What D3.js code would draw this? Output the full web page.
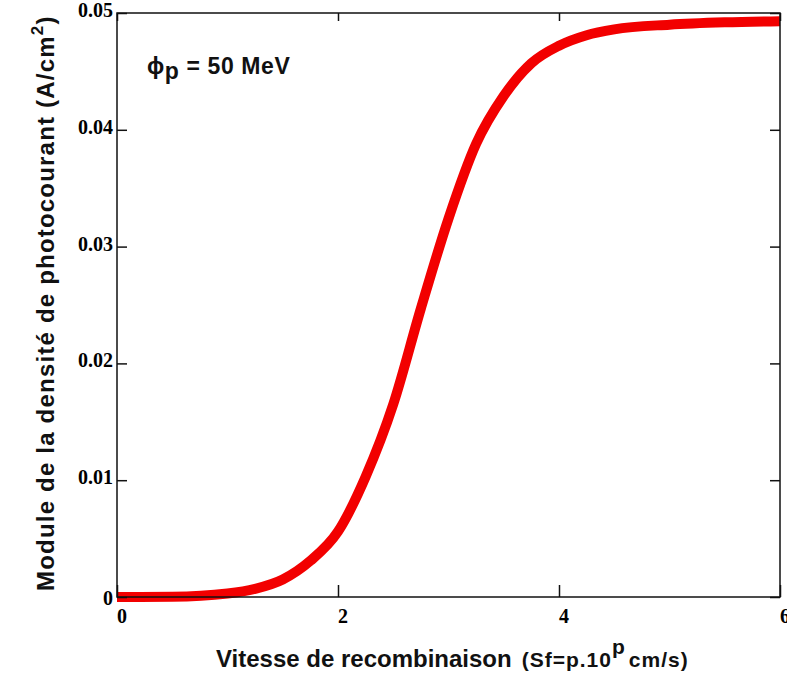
<!DOCTYPE html>
<html>
<head>
<meta charset="utf-8">
<script src="https://cdn.jsdelivr.net/npm/d3@7"></script>
<style>
  body { margin: 0; background: #fff; }
  .lbl { font-family: "Liberation Sans", Arial, sans-serif; font-weight: bold; fill: #111; }
</style>
</head>
<body>
<script>
var width = 787;
var height = 678;
var margin = { left: 117, right: 7, top: 13, bottom: 81 };

// p values (Sf = p.10^p cm/s) and photocurrent density module (A/cm2)
var pValues = [0, 0.5, 1.0, 1.25, 1.5, 1.75, 2.0, 2.25, 2.5, 2.75, 3.0, 3.25, 3.5, 3.75, 4.0, 4.25, 4.5, 5.0, 5.5, 6.0];
var jph = [0, 0.00002, 0.0003, 0.0007, 0.0015, 0.0031, 0.0056, 0.0103, 0.0165, 0.0247, 0.0324, 0.0388, 0.0429, 0.0457, 0.0472, 0.0481, 0.0486, 0.0490, 0.0492, 0.0493];
var xTicks = [0, 2, 4, 6];
var yTicks = [0, 0.01, 0.02, 0.03, 0.04, 0.05];

var svg = d3.select('body')
            .append('svg')
            .attr('width', width)
            .attr('height', height);

var w = width - margin.left - margin.right;
var h = height - margin.top - margin.bottom;

var x = d3.scaleLinear().domain([0, 6]).range([0, w]);
var y = d3.scaleLinear().domain([0, 0.05]).range([h, 0]);

var g = svg.append('g')
           .attr('transform', 'translate(' + margin.left + ',' + margin.top + ')');

// curve
var line = d3.line()
             .x(function (d, i) { return x(pValues[i]); })
             .y(function (d) { return y(d); })
             .curve(d3.curveMonotoneX);

g.append('path')
 .datum(jph)
 .attr('d', line)
 .attr('fill', 'none')
 .attr('stroke', '#f20000')
 .attr('stroke-width', 10);

// axes, ticks pointing inward
var fmtY = function (d) { return d === 0 ? '0' : d3.format('.2f')(d); };

g.append('g')
 .attr('transform', 'translate(0,' + h + ')')
 .call(d3.axisTop(x).tickValues(xTicks).tickSize(12).tickFormat(''));
g.append('g')
 .call(d3.axisBottom(x).tickValues(xTicks).tickSize(8).tickFormat(''));
g.append('g')
 .call(d3.axisRight(y).tickValues(yTicks).tickSize(10).tickFormat(''));
g.append('g')
 .attr('transform', 'translate(' + w + ',0)')
 .call(d3.axisLeft(y).tickValues(yTicks).tickSize(10).tickFormat(''));

g.selectAll('.domain').remove();
g.selectAll('.tick line').attr('stroke', '#111').attr('stroke-width', 1.5);

g.append('rect')
 .attr('width', w)
 .attr('height', h)
 .attr('fill', 'none')
 .attr('stroke', '#111')
 .attr('stroke-width', 1.5);

// tick labels
g.selectAll('.xlab')
 .data(xTicks)
 .enter()
 .append('text')
 .attr('x', function (d) { return x(d) + 5; })
 .attr('y', h + 26)
 .attr('text-anchor', 'middle')
 .style('font-family', '"Liberation Serif", serif')
 .style('font-weight', 'bold')
 .style('font-size', '20px')
 .text(function (d) { return d; });

g.selectAll('.ylab')
 .data(yTicks)
 .enter()
 .append('text')
 .attr('x', -4)
 .attr('y', function (d) { return y(d) + (d === 0 ? 8 : 4); })
 .attr('text-anchor', 'end')
 .style('font-family', '"Liberation Serif", serif')
 .style('font-weight', 'bold')
 .style('font-size', '20px')
 .text(fmtY);

// x title
var xt = svg.append('text')
            .attr('class', 'lbl')
            .attr('x', 216)
            .attr('y', 667)
            .style('font-size', '24px');
xt.append('tspan').text('Vitesse de recombinaison');
xt.append('tspan').style('font-size', '21px').style('letter-spacing', '1px').attr('dx', 10).text('(Sf=p.10');
xt.append('tspan').style('font-size', '21px').attr('dy', -13).text('p');
xt.append('tspan').style('font-size', '21px').style('letter-spacing', '1px').attr('dy', 13).attr('dx', 4).text('cm/s)');

// y title
var yt = svg.append('text')
            .attr('class', 'lbl')
            .attr('transform', 'translate(54,591) rotate(-90)')
            .style('font-size', '24px')
            .style('letter-spacing', '1.2px');
yt.append('tspan').text('Module de la densité de photocourant (A/cm');
yt.append('tspan').style('font-size', '17px').attr('dy', -11).text('2');
yt.append('tspan').attr('dy', 11).text(')');

// annotation
var ann = svg.append('text')
             .attr('class', 'lbl')
             .attr('x', 147)
             .attr('y', 74)
             .style('font-size', '23px')
             .style('letter-spacing', '0.6px');
ann.append('tspan').text('ϕ');
ann.append('tspan').attr('dy', 5).text('p');
ann.append('tspan').attr('dy', -5).text(' = 50 MeV');
</script>
</body>
</html>
